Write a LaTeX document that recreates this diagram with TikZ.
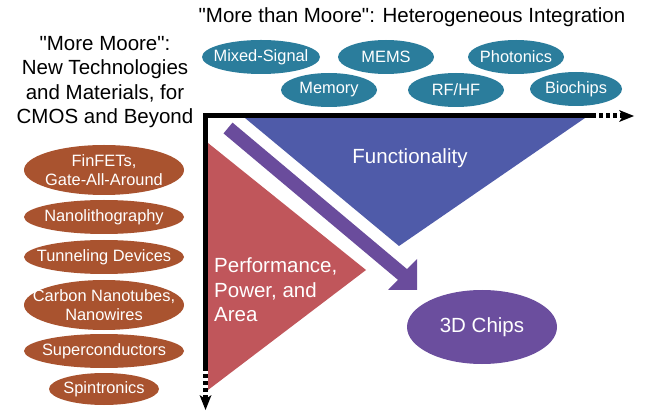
\documentclass[tikz,border=0pt]{standalone}
\usepackage{fontspec}
% plain family: no TeX ligature mapping, so straight quotes stay straight
\newfontfamily\plainsans{Liberation Sans}
\usetikzlibrary{arrows.meta,shapes.geometric}

\definecolor{tealfill}{HTML}{2B7D9C}
\definecolor{brownfill}{HTML}{A9532F}
\definecolor{bluetri}{HTML}{4F5BA9}
\definecolor{redtri}{HTML}{C0565B}
\definecolor{purplearrow}{HTML}{6A4C9C}
\definecolor{purplefill}{HTML}{6B4E9E}

\tikzset{
  bigtext/.style={font=\plainsans\fontsize{20.5}{24.4}\selectfont},
  oval/.style={ellipse, inner sep=0pt},
  ovaltext/.style={text=white, font=\plainsans\fontsize{16.4}{19.4}\selectfont, align=center, inner sep=0pt},
  topoval/.style={oval, fill=tealfill, minimum height=34pt},
  sideoval/.style={oval, fill=brownfill, minimum width=160pt},
  axisline/.style={line width=5pt},
  axisdots/.style={line width=5pt, dash pattern=on 4pt off 3pt,
    -{Stealth[length=15pt,width=12pt,inset=4pt,line width=0pt]}},
}

\begin{document}
\begin{tikzpicture}[x=1pt,y=-1pt]
\useasboundingbox (0,0) rectangle (647,411);

% titles
\node[bigtext] (title) at (412,17) {"More than Moore": Heterogeneous Integration};
\node[bigtext, align=center] (lefttitle) at (105,82)
  {"More Moore":\\New Technologies\\and Materials, for\\CMOS and Beyond};

% application ovals (more than Moore)
\node[topoval, minimum width=118pt] (mixed) at (261,57) {};
\node[topoval, minimum width=96pt]  (mems)  at (386,57) {};
\node[topoval, minimum width=96pt]  (phot)  at (516,57) {};
\node[topoval, minimum width=96pt]  (mem)   at (329,90) {};
\node[topoval, minimum width=96pt]  (rfhf)  at (456,90) {};
\node[topoval, minimum width=92pt]  (bio)   at (576,89) {};
\node[ovaltext] (mixed-t) at (mixed) {Mixed-Signal};
\node[ovaltext] (mems-t)  at (mems)  {MEMS};
\node[ovaltext] (phot-t)  at (phot)  {Photonics};
\node[ovaltext] (mem-t)   at (mem)   {Memory};
\node[ovaltext] (rfhf-t)  at (rfhf)  {RF/HF};
\node[ovaltext] (bio-t)   at (bio)   {Biochips};

% technology ovals (more Moore)
\node[sideoval, minimum height=50pt] (finfet) at (104,170) {};
\node[sideoval, minimum height=34pt] (litho)  at (104,217) {};
\node[sideoval, minimum height=34pt] (tunnel) at (104,257) {};
\node[sideoval, minimum height=50pt] (cnt)    at (104,305) {};
\node[sideoval, minimum height=34pt] (super)  at (104,351) {};
\node[oval, fill=brownfill, minimum width=110pt, minimum height=32pt] (spin) at (104,389) {};
\node[ovaltext] (finfet-t) at (finfet) {FinFETs,\\Gate-All-Around};
\node[ovaltext] (litho-t)  at (litho)  {Nanolithography};
\node[ovaltext] (tunnel-t) at (tunnel) {Tunneling Devices};
\node[ovaltext] (cnt-t)    at (cnt)    {Carbon Nanotubes,\\Nanowires};
\node[ovaltext] (super-t)  at (super)  {Superconductors};
\node[ovaltext] (spin-t)   at (spin)   {Spintronics};

% functionality and PPA triangles
\fill[bluetri] (245,118) -- (585,118) -- (399,246) -- cycle;
\node[bigtext, text=white] (func) at (410,158) {Functionality};
\fill[redtri] (208,143) -- (366,270) -- (208,390) -- cycle;
\node[bigtext, text=white, align=left, anchor=west, inner sep=0pt] (ppa) at (214,290)
  {Performance,\\Power, and\\Area};

% diagonal arrow toward 3D integration
\fill[purplearrow] (223.5,133.4) -- (232.5,122.6) -- (407,269.1) -- (417,259)
  -- (417,290) -- (388,290) -- (398,279.9) -- cycle;

\node[oval, fill=purplefill, minimum width=150pt, minimum height=74pt] (chips) at (482,327) {};
\node[bigtext, text=white, inner sep=0pt] (chips-t) at (chips) {3D Chips};

% axes
\coordinate (origin) at (205.5,116);
\coordinate (xsolid) at (592,116);
\coordinate (xend)   at (634,116);
\coordinate (ysolid) at (205.5,367);
\coordinate (yend)   at (205.5,410);
\draw[axisline] ([xshift=-2.5pt]origin) -- (xsolid);
\draw[axisline] ([yshift=2.5pt]origin) -- (ysolid);
\draw[axisdots] (xsolid) -- (xend);
\draw[axisdots] (ysolid) -- (yend);
\end{tikzpicture}
\end{document}
